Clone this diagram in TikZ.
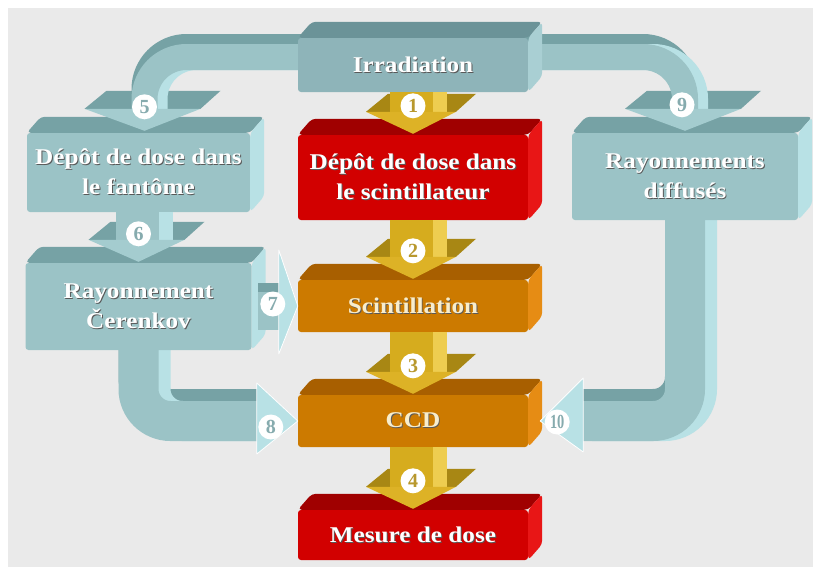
\documentclass[tikz,border=0pt]{standalone}
\usepackage{fontspec}
\usepackage{graphicx}
\setmainfont{Liberation Serif}
\newfontfamily\boitefont[FakeStretch=1.12]{Liberation Serif}
\newfontfamily\chiffrefont{Liberation Serif}
\usetikzlibrary{calc, positioning}

\definecolor{fond}{HTML}{EAEAEA}
\definecolor{bleu}{HTML}{9BC3C6}
\definecolor{bleudessus}{HTML}{76A2A5}
\definecolor{bleucote}{HTML}{B8E1E5}
\definecolor{bleupointe}{HTML}{A4CCCF}
\definecolor{bleuchiffre}{HTML}{86ABAE}
\definecolor{gristeal}{HTML}{8EB4B9}
\definecolor{gristealdessus}{HTML}{6B9398}
\definecolor{gristealcote}{HTML}{A9CFD3}
\definecolor{rouge}{HTML}{D20000}
\definecolor{rougedessus}{HTML}{A00000}
\definecolor{rougecote}{HTML}{E81616}
\definecolor{ambre}{HTML}{CC7A00}
\definecolor{ambredessus}{HTML}{A85F00}
\definecolor{ambrecote}{HTML}{E68C14}
\definecolor{creme}{HTML}{F8EDCC}
\definecolor{dore}{HTML}{D6AC1E}
\definecolor{doredessus}{HTML}{A88714}
\definecolor{dorecote}{HTML}{EECD50}
\definecolor{dorepointe}{HTML}{DDB226}
\definecolor{dorechiffre}{HTML}{B8982E}

\pgfdeclarelayer{decor}
\pgfdeclarelayer{dessous}
\pgfsetlayers{decor,dessous,main}

% texte avec ombre
\newcommand\ombre[1]{\leavevmode\rlap{\kern0.9pt\raisebox{-0.9pt}{\color{black!65}#1}}#1}

% faces du dessus et de droite d'une boite
\newcommand\faces[2]{%
  \fill[#2dessus, rounded corners=4pt] (#1.north west) -- ++(14pt,16pt)
    -- ($(#1.north east)+(14pt,16pt)$) -- (#1.north east) -- cycle;
  \fill[#2cote, rounded corners=4pt] (#1.north east) -- ++(14pt,16pt)
    -- ($(#1.south east)+(14pt,16pt)$) -- (#1.south east) -- cycle;
}

% pointe : face du dessus, puis face avant
\newcommand\dessus[3][47]{%
  \fill[#3dessus] ($(#2)+(-#1pt,22pt)$) -- ++(22pt,18pt)
    -- ++({2*#1pt-6pt},0pt) -- ++(-20pt,-18pt) -- cycle;
}
\newcommand\pointe[3][47]{%
  \fill[#3pointe] ($(#2)+(-#1pt,22pt)$) -- ($(#2)+(#1pt-4pt,22pt)$) -- (#2) -- cycle;
}

% fleche vers le bas de #2 a #3
\newcommand\fleche[5][47]{%
  \coordinate (p#4) at ([yshift=1pt]#3.north);
  \dessus[#1]{p#4}{#5}
  \fill[#5cote] ($(#2.south -| p#4)+(20pt,0pt)$) rectangle ($(p#4)+(34pt,22pt)$);
  \fill[#5] ($(#2.south -| p#4)+(-23pt,0pt)$) rectangle ($(p#4)+(20pt,22pt)$);
  \pointe[#1]{p#4}{#5}
  \node[rond=#5chiffre] (n#4) at ($(p#4)+(0pt,28pt)$) {#4};
}

% bande courbe en trois couches
\newcommand\bande[4]{%
  \begin{scope}[transform canvas={yshift=#3}]
    \draw[bleudessus, line width=#1, rounded corners=#2] #4;
  \end{scope}
  \begin{scope}[transform canvas={xshift=#3}]
    \draw[bleucote, line width=#1, rounded corners=#2] #4;
  \end{scope}
  \draw[bleu, line width=#1, rounded corners=#2] #4;
}

\begin{document}
\begin{tikzpicture}[%
    x = 1pt, y = -1pt,
    on grid,
    boite/.style = {%
      rectangle, rounded corners = 3pt,
      minimum width = 230pt, inner sep = 0pt,
      text = white, align = center,
      font = \boitefont\bfseries\fontsize{22.5pt}{30pt}\selectfont },
    rond/.style = {%
      circle, fill = white, minimum size = 25pt, inner sep = 0pt,
      text = #1,
      font = \chiffrefont\bfseries\fontsize{20pt}{20pt}\selectfont },
    tete/.style = {%
      fill = bleucote, draw = white,
      line width = 0.8pt, line join = round }
  ]

  \useasboundingbox (0,0) rectangle (813,573);
  \begin{pgfonlayer}{decor}
    \fill[white] (0,0) rectangle (813,573);
    \fill[fond] (8,8) rectangle (813,567);
  \end{pgfonlayer}

  % colonne du milieu
  \node[boite, fill=gristeal, minimum height=54pt] (irr) at (413,65)
    {\ombre{Irradiation}};
  \node[boite, fill=rouge, minimum height=85pt] (dep) [below=112.5pt of irr]
    {\ombre{Dépôt de dose dans}\\\ombre{le scintillateur}};
  \node[boite, fill=ambre, text=creme, minimum height=52pt] (scint) [below=128.5pt of dep]
    {\ombre{Scintillation}};
  \node[boite, fill=ambre, text=creme, minimum height=52pt] (ccd) [below=115pt of scint]
    {\ombre{CCD}};
  \node[boite, fill=rouge, minimum height=50pt] (mes) [below=114pt of ccd]
    {\ombre{Mesure de dose}};

  % colonnes de gauche et de droite
  \node[boite, fill=bleu, minimum width=223pt, minimum height=79pt] (fant) at (138.5,172.5)
    {\ombre{Dépôt de dose dans}\\\ombre{le fantôme}};
  \node[boite, fill=bleu, minimum width=226pt, minimum height=87pt] (cer) [below=134pt of fant]
    {\ombre{Rayonnement}\\\ombre{Čerenkov}};
  \node[boite, fill=bleu, minimum width=226pt, minimum height=87pt] (diff) at (685,176.5)
    {\ombre{Rayonnements}\\\ombre{diffusés}};

  \faces{irr}{gristeal}
  \faces{dep}{rouge}
  \faces{scint}{ambre}
  \faces{ccd}{ambre}
  \faces{mes}{rouge}
  \faces{fant}{bleu}
  \faces{cer}{bleu}
  \faces{diff}{bleu}

  \coordinate (p5) at ($(fant.north)+(6pt,2pt)$);
  \coordinate (p9) at ($(diff.north)+(0pt,2pt)$);

  % bandes sous les boites
  \begin{pgfonlayer}{dessous}
    \dessus[60]{p5}{bleu}
    \dessus[60]{p9}{bleu}
    \bande{26pt}{42pt}{10pt}{([yshift=8pt]irr.center) -| ($(p5)+(0pt,19pt)$)}
    \bande{26pt}{42pt}{10pt}{([yshift=8pt]irr.center) -| ($(p9)+(0pt,19pt)$)}
    \bande{40pt}{32pt}{12pt}{(cer.center) |- ([xshift=-36pt]ccd.west)}
    \bande{40pt}{32pt}{12pt}{(diff.center) |- ([xshift=52pt]ccd.east)}
  \end{pgfonlayer}

  % fleches verticales
  \fleche{irr}{dep}{1}{dore}
  \fleche{dep}{scint}{2}{dore}
  \fleche{scint}{ccd}{3}{dore}
  \fleche{ccd}{mes}{4}{dore}
  \fleche[50]{fant}{cer}{6}{bleu}

  \pointe[60]{p5}{bleu}
  \pointe[60]{p9}{bleu}
  \node[rond=bleuchiffre] (n5) at ($(p5)+(0pt,24pt)$) {5};
  \node[rond=bleuchiffre] (n9) at ($(p9)+(-3pt,26pt)$) {9};

  % fleches horizontales
  \fill[bleu] ($(cer.east)+(6pt,24pt)$) rectangle ($(scint.west)+(-19pt,-24pt)$);
  \fill[bleudessus] ($(cer.east)+(6pt,24pt)$) rectangle ($(scint.west)+(-19pt,14pt)$);
  \fill[tete] ($(scint.west)+(-19pt,56pt)$) -- (scint.west)
    -- ($(scint.west)+(-19pt,-48pt)$) -- cycle;
  \node[rond=bleuchiffre] (n7) at ($(scint.west)+(-25pt,2pt)$) {7};

  \fill[tete] ($(ccd.west)+(-41pt,38pt)$) -- (ccd.west)
    -- ($(ccd.west)+(-41pt,-33pt)$) -- cycle;
  \node[rond=bleuchiffre] (n8) at ($(ccd.west)+(-27pt,-6pt)$) {8};

  \fill[tete] ($(ccd.east)+(55pt,43pt)$) -- ($(ccd.east)+(12pt,0pt)$)
    -- ($(ccd.east)+(55pt,-31pt)$) -- cycle;
  \node[rond=bleuchiffre] (n10) at ($(ccd.east)+(29pt,-1pt)$) {\scalebox{0.72}[1]{10}};

\end{tikzpicture}
\end{document}
